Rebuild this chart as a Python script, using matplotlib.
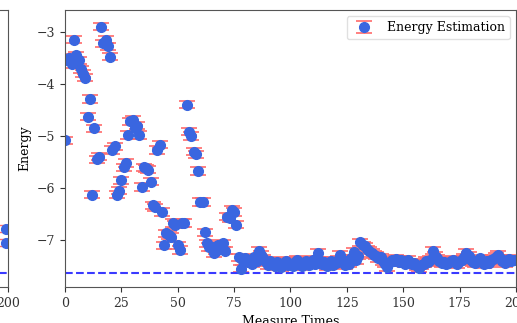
import numpy as np
import matplotlib.pyplot as plt

plt.rcParams['font.family'] = ['DejaVu Serif']

energy_early = [-5.08, -3.55, -3.50, -3.62, -3.15, -3.45, -3.55, -3.72, -3.80, -3.88,
                -4.63, -4.29, -6.13, -4.85, -5.45, -5.40, -2.90, -3.22, -3.15, -3.28,
                -3.48, -5.27, -5.20, -6.13, -6.05, -5.85, -5.60, -5.52, -4.98, -4.72,
                -4.69, -4.85, -4.80, -4.98, -5.98, -5.60, -5.62, -5.65, -5.88, -6.33,
                -6.37, -5.27, -5.17, -6.46, -7.10, -6.87, -6.90, -6.94, -6.67, -6.70,
                -7.10, -7.19, -6.67, -6.67, -4.40, -4.92, -5.00, -5.30, -5.35, -5.67,
                -6.27, -6.27, -6.85, -7.06, -7.13, -7.13, -7.25, -7.20, -7.10, -7.15,
                -7.06, -7.20, -6.55, -6.58, -6.42, -6.46, -6.70, -7.33, -7.55, -7.40]
energy_late = [-7.35, -7.42, -7.38, -7.45, -7.33, -7.40, -7.20, -7.28, -7.35, -7.42,
               -7.48, -7.40, -7.45, -7.50, -7.42, -7.47, -7.52, -7.44, -7.40, -7.48,
               -7.45, -7.50, -7.42, -7.38, -7.46, -7.50, -7.44, -7.40, -7.47, -7.43,
               -7.38, -7.45, -7.25, -7.40, -7.46, -7.42, -7.50, -7.44, -7.40, -7.47,
               -7.43, -7.38, -7.28, -7.42, -7.48, -7.40, -7.45, -7.35, -7.22, -7.38,
               -7.30, -7.04, -7.10, -7.12, -7.18, -7.20, -7.25, -7.28, -7.30, -7.35,
               -7.33, -7.40, -7.45, -7.52, -7.42, -7.38, -7.40, -7.36, -7.42, -7.38,
               -7.40, -7.45, -7.38, -7.44, -7.46, -7.44, -7.50, -7.54, -7.48, -7.45,
               -7.40, -7.42, -7.38, -7.20, -7.30, -7.35, -7.40, -7.44, -7.42, -7.45,
               -7.44, -7.40, -7.38, -7.42, -7.46, -7.40, -7.38, -7.33, -7.25, -7.30,
               -7.38, -7.42, -7.44, -7.38, -7.35, -7.42, -7.46, -7.40, -7.44, -7.38,
               -7.36, -7.32, -7.28, -7.35, -7.40, -7.44, -7.38, -7.36, -7.40, -7.38]
energy = np.array(energy_early + energy_late)
times = np.arange(len(energy))
err = np.full(len(energy), 0.07)
ground_energy = -7.63

# neighbouring panel, only its right edge is visible
left_times = [199, 199]
left_energy = [-6.78, -7.05]

fig = plt.figure(figsize=(5.17, 3.23), dpi=100)

ax0 = fig.add_axes([-0.9, 0.1115, 0.9155, 0.8576])
ax0.errorbar(left_times, left_energy, yerr=0.07, fmt='o', color='#3a66e0',
             ecolor='#ff6b6b', capsize=6, markersize=7)
ax0.axhline(ground_energy, color='#3a3aff', ls='--', lw=1.5)
ax0.set_xlim(0, 200)
ax0.set_ylim(-7.9, -2.58)
ax0.set_xticks([0, 50, 100, 150, 200])
ax0.tick_params(labelsize=9, colors='#333333')

ax = fig.add_axes([0.1257, 0.1115, 0.8723, 0.8576])
ax.errorbar(times, energy, yerr=err, fmt='o', color='#3a66e0', ecolor='#ff6b6b',
            capsize=6, markersize=7, elinewidth=1, capthick=1.2,
            label='Energy Estimation')
ax.axhline(ground_energy, color='#3a3aff', ls='--', lw=1.5)
ax.set_xlim(0, 200)
ax.set_ylim(-7.9, -2.58)
ax.set_xticks(range(0, 201, 25))
ax.set_yticks([-7, -6, -5, -4, -3])
ax.tick_params(labelsize=9, colors='#333333')
ax.set_xlabel('Measure Times', fontsize=9, labelpad=4)
ax.set_ylabel('Energy', fontsize=9)
for a in (ax0, ax):
    for s in a.spines.values():
        s.set_color('#555555')
ax.legend(loc='upper right', fontsize=9, framealpha=0.9, edgecolor='#dddddd')

fig.savefig('out.png', dpi=100)
